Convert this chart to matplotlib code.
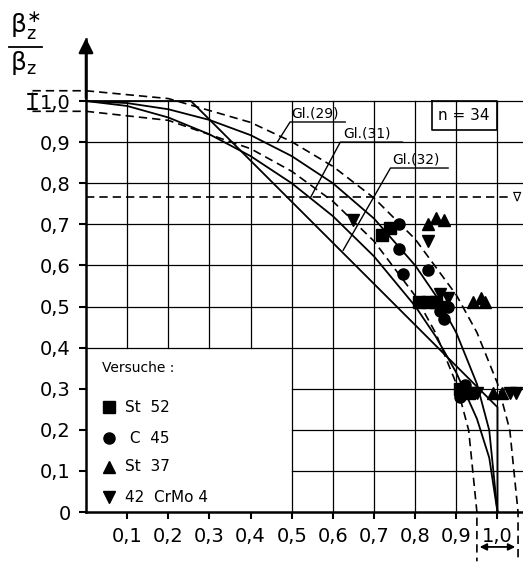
import numpy as np
import matplotlib.pyplot as plt
from matplotlib.lines import Line2D

plt.rcParams['font.family'] = ['DejaVu Sans']

# theoretical curves, points
gl29_x = [0.0, 0.1, 0.2, 0.3, 0.4, 0.5, 0.6, 0.7, 0.8, 0.85, 0.9, 0.95, 0.98, 1.0]
gl29_y = [1.0, 0.995, 0.98, 0.954, 0.917, 0.866, 0.8, 0.714, 0.6, 0.527, 0.436, 0.312, 0.199, 0.0]
gl31_x = [0.0, 0.1, 0.2, 0.3, 0.4, 0.5, 0.6, 0.7, 0.8, 0.85, 0.9, 0.95, 0.98, 1.0]
gl31_y = [1.0, 0.988, 0.96, 0.919, 0.866, 0.80, 0.72, 0.622, 0.501, 0.427, 0.339, 0.227, 0.132, 0.0]
gl32_x = [0.0, 0.255, 1.0, 1.0]
gl32_y = [1.0, 1.0, 0.255, 0.0]
band_hi_x = [-0.13, 0.0, 0.2, 0.4, 0.5, 0.6, 0.7, 0.8, 0.9, 0.95, 1.0, 1.03, 1.05, 1.05]
band_hi_y = [1.025, 1.025, 1.006, 0.948, 0.901, 0.841, 0.764, 0.664, 0.528, 0.437, 0.313, 0.199, 0.0, -0.12]
band_lo_x = [-0.13, 0.0, 0.2, 0.4, 0.5, 0.6, 0.7, 0.8, 0.85, 0.9, 0.93, 0.95, 0.95]
band_lo_y = [0.975, 0.975, 0.953, 0.884, 0.829, 0.756, 0.659, 0.526, 0.435, 0.312, 0.199, 0.0, -0.12]
limit_y = 0.766

# test results (Versuche)
st52_x = [0.72, 0.74, 0.81, 0.83, 0.85, 0.91, 0.93]
st52_y = [0.675, 0.69, 0.51, 0.51, 0.51, 0.30, 0.29]
c45_x = [0.76, 0.76, 0.77, 0.83, 0.86, 0.87, 0.88, 0.91, 0.92, 0.94]
c45_y = [0.70, 0.64, 0.58, 0.59, 0.49, 0.47, 0.50, 0.28, 0.31, 0.29]
st37_x = [0.83, 0.85, 0.87, 0.94, 0.96, 0.97, 0.99, 1.01]
st37_y = [0.70, 0.715, 0.71, 0.51, 0.52, 0.51, 0.29, 0.29]
crmo_x = [0.65, 0.83, 0.86, 0.88, 0.86, 0.95, 1.03, 1.045]
crmo_y = [0.71, 0.66, 0.53, 0.52, 0.50, 0.29, 0.29, 0.29]

ticks = [0.1, 0.2, 0.3, 0.4, 0.5, 0.6, 0.7, 0.8, 0.9, 1.0]
tick_labels = ['0,1', '0,2', '0,3', '0,4', '0,5', '0,6', '0,7', '0,8', '0,9', '1,0']

fig = plt.figure(figsize=(5.23, 5.65), dpi=100)
ax = fig.add_axes([0.1644, 0.0938, 0.834, 0.8365])
ax.set_xlim(0, 1.06)
ax.set_ylim(0, 1.15)
for s in ['top', 'right']:
    ax.spines[s].set_visible(False)
for s in ['left', 'bottom']:
    ax.spines[s].set_linewidth(1.8)

# grid with the blank legend corner
gk = dict(color='black', lw=0.9, zorder=1, clip_on=False)
for v in ticks:
    ax.plot([0.5 if v < 0.35 else 0, 1.065], [v, v], **gk)
    ax.plot([v, v], [0.4 if v < 0.45 else 0, 1.0], **gk)

ax.plot(gl29_x, gl29_y, color='black', lw=1.3, zorder=2)
ax.plot(gl31_x, gl31_y, color='black', lw=1.3, zorder=2)
ax.plot(gl32_x, gl32_y, color='black', lw=1.3, zorder=2)
ax.plot(band_hi_x, band_hi_y, color='black', lw=1.2, ls=(0, (5, 3)), clip_on=False, zorder=2)
ax.plot(band_lo_x, band_lo_y, color='black', lw=1.2, ls=(0, (5, 3)), clip_on=False, zorder=2)
ax.plot([0, 1.03], [limit_y, limit_y], color='black', lw=1.2, ls=(0, (5, 3)), zorder=2)
ax.text(1.046, limit_y, '∇', fontsize=9, ha='center', va='center')

mk = dict(color='black', ls='none', ms=8, zorder=3, clip_on=False)
ax.plot(st52_x, st52_y, marker='s', **mk)
ax.plot(c45_x, c45_y, marker='o', **mk)
ax.plot(st37_x, st37_y, marker='^', **mk)
ax.plot(crmo_x, crmo_y, marker='v', **mk)

# leaders for the equation labels
lk = dict(color='black', lw=1.0, zorder=2)
ax.plot([0.63, 0.496, 0.465], [0.949, 0.949, 0.90], **lk)
ax.text(0.50, 0.953, 'Gl.(29)', fontsize=10, va='bottom')
ax.plot([0.769, 0.618, 0.545], [0.90, 0.90, 0.764], **lk)
ax.text(0.625, 0.904, 'Gl.(31)', fontsize=10, va='bottom')
ax.plot([0.88, 0.74, 0.625], [0.837, 0.837, 0.637], **lk)
ax.text(0.745, 0.841, 'Gl.(32)', fontsize=10, va='bottom')

# n box
ax.plot([0.84, 1.0, 1.0, 0.84, 0.84], [1.0, 1.0, 0.93, 0.93, 1.0], color='black', lw=1.2, zorder=2)
ax.text(0.855, 0.965, 'n = 34', fontsize=11, va='center')

# legend
ax.text(0.04, 0.35, 'Versuche :', fontsize=10, va='center')
leg_m = ['s', 'o', '^', 'v']
leg_t = ['St  52', ' C  45', 'St  37', '42  CrMo 4']
leg_y = [0.255, 0.18, 0.11, 0.036]
for m, t, yy in zip(leg_m, leg_t, leg_y):
    ax.plot([0.055], [yy], marker=m, color='black', ms=8, ls='none')
    ax.text(0.095, yy, t, fontsize=11, va='center')

ax.set_xticks(ticks)
ax.set_xticklabels(tick_labels, fontsize=14)
ax.set_yticks([0] + ticks)
ax.set_yticklabels(['0'] + tick_labels, fontsize=14)
ax.tick_params(direction='out', length=5, width=1.5, pad=6)

# arrow on y axis
ax.annotate('', xy=(0, 1.16), xytext=(0, 1.0),
            arrowprops=dict(arrowstyle='-|>', color='black', lw=1.8, mutation_scale=22),
            annotation_clip=False)

# tolerance marks
ax.annotate('', xy=(0.95, -0.085), xytext=(1.05, -0.085),
            arrowprops=dict(arrowstyle='<|-|>', color='black', lw=1.3, mutation_scale=10),
            annotation_clip=False)
ax.annotate('', xy=(-0.13, 0.975), xytext=(-0.13, 1.025),
            arrowprops=dict(arrowstyle='|-|', color='black', lw=1.5, mutation_scale=3),
            annotation_clip=False)

# y label as a fraction
fig.text(0.02, 0.955, r'$\mathrm{\beta_z^{\ast}}$', fontsize=18, ha='left', va='center')
fig.text(0.02, 0.888, r'$\mathrm{\beta_z}$', fontsize=18, ha='left', va='center')
fig.add_artist(Line2D([0.017, 0.08], [0.917, 0.917], color='black', lw=1.3))

fig.savefig('out.png', dpi=100)
